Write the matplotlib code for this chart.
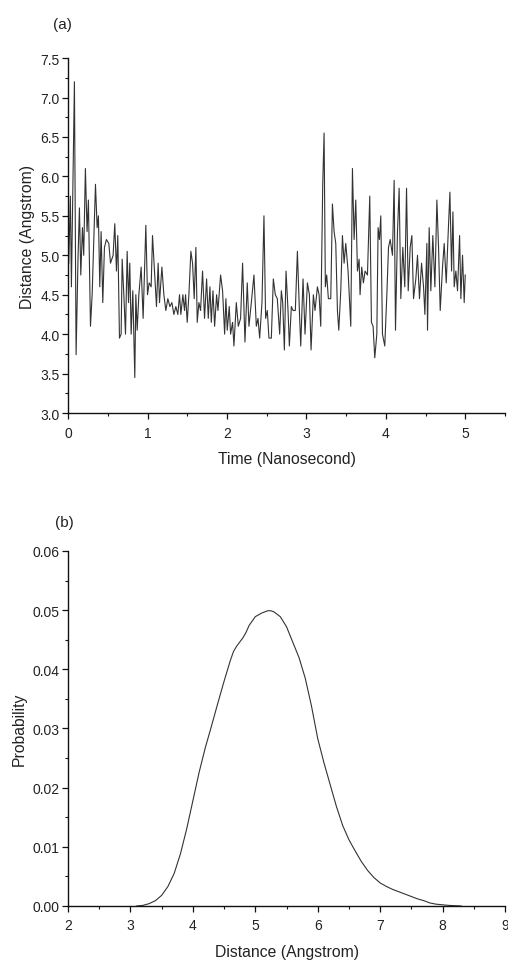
import matplotlib

matplotlib.use("Agg")
import matplotlib.pyplot as plt  # noqa: E402
from matplotlib.ticker import MultipleLocator, FormatStrFormatter  # noqa: E402

plt.rcParams["font.family"] = ["Liberation Sans", "DejaVu Sans"]

# (a) distance trace
TIME_NS = [
    0.008, 0.029, 0.042, 0.080, 0.101, 0.126, 0.143, 0.160, 0.181, 0.197,
    0.218, 0.239, 0.256, 0.282, 0.303, 0.345, 0.366, 0.382, 0.399, 0.416,
    0.437, 0.458, 0.483, 0.513, 0.534, 0.567, 0.588, 0.609, 0.626, 0.647,
    0.668, 0.681, 0.702, 0.723, 0.744, 0.761, 0.777, 0.794, 0.815, 0.840,
    0.853, 0.870, 0.891, 0.920, 0.945, 0.979, 1.000, 1.021, 1.046, 1.063,
    1.088, 1.113, 1.134, 1.151, 1.181, 1.206, 1.231, 1.256, 1.282, 1.307,
    1.332, 1.357, 1.382, 1.403, 1.420, 1.445, 1.466, 1.479, 1.500, 1.521,
    1.546, 1.567, 1.588, 1.609, 1.626, 1.647, 1.668, 1.693, 1.718, 1.744,
    1.765, 1.786, 1.803, 1.824, 1.845, 1.870, 1.887, 1.920, 1.945, 1.971,
    1.987, 2.004, 2.029, 2.046, 2.071, 2.088, 2.118, 2.143, 2.172, 2.197,
    2.227, 2.256, 2.277, 2.307, 2.340, 2.370, 2.391, 2.412, 2.441, 2.466,
    2.487, 2.508, 2.529, 2.559, 2.584, 2.609, 2.634, 2.664, 2.685, 2.702,
    2.723, 2.744, 2.769, 2.786, 2.811, 2.832, 2.861, 2.887, 2.912, 2.929,
    2.958, 2.983, 3.013, 3.038, 3.059, 3.088, 3.109, 3.139, 3.160, 3.181,
    3.206, 3.223, 3.239, 3.256, 3.277, 3.307, 3.328, 3.349, 3.370, 3.391,
    3.408, 3.433, 3.454, 3.475, 3.496, 3.525, 3.559, 3.580, 3.601, 3.622,
    3.643, 3.664, 3.676, 3.697, 3.718, 3.739, 3.769, 3.798, 3.819, 3.840,
    3.861, 3.887, 3.903, 3.920, 3.937, 3.958, 3.987, 4.013, 4.034, 4.055,
    4.084, 4.105, 4.122, 4.147, 4.168, 4.189, 4.214, 4.239, 4.261, 4.282,
    4.307, 4.328, 4.349, 4.378, 4.399, 4.424, 4.450, 4.475, 4.492, 4.517,
    4.525, 4.546, 4.567, 4.592, 4.618, 4.643, 4.664, 4.685, 4.714, 4.735,
    4.761, 4.782, 4.807, 4.828, 4.845, 4.861, 4.882, 4.903, 4.929, 4.945,
    4.966, 4.987, 5.000,
]
DIST_A = [
    4.90, 5.75, 4.60, 7.20, 3.74, 5.00, 5.60, 4.75, 5.35, 5.00,
    6.10, 5.30, 5.70, 4.10, 4.50, 5.90, 5.35, 5.50, 4.60, 5.30,
    4.40, 5.10, 5.20, 5.15, 4.90, 5.00, 5.40, 4.80, 5.25, 3.95,
    4.00, 4.95, 4.50, 4.00, 5.05, 4.40, 4.90, 4.00, 4.55, 3.45,
    4.50, 4.05, 4.50, 4.85, 4.20, 5.38, 4.50, 4.65, 4.60, 5.25,
    4.80, 4.35, 4.90, 4.40, 4.85, 4.50, 4.30, 4.45, 4.35, 4.40,
    4.25, 4.35, 4.25, 4.50, 4.25, 4.50, 4.30, 4.50, 4.15, 4.50,
    5.05, 4.90, 4.45, 5.10, 4.15, 4.40, 4.30, 4.80, 4.20, 4.70,
    4.20, 4.60, 4.15, 4.55, 4.10, 4.50, 4.30, 4.75, 4.55, 4.00,
    4.45, 4.05, 4.35, 4.00, 4.15, 3.85, 4.40, 4.10, 4.20, 4.90,
    3.90, 4.65, 4.10, 4.40, 4.75, 4.10, 4.20, 3.95, 4.40, 5.50,
    4.20, 4.30, 3.95, 3.95, 4.70, 4.50, 4.45, 4.00, 4.55, 4.40,
    3.80, 4.80, 4.30, 3.85, 4.35, 4.30, 4.30, 5.05, 4.30, 3.85,
    4.70, 4.00, 4.65, 4.50, 3.80, 4.50, 4.30, 4.60, 4.50, 4.10,
    5.90, 6.55, 4.60, 4.75, 4.45, 4.45, 5.65, 5.30, 5.15, 4.30,
    4.05, 4.55, 5.25, 4.90, 5.15, 4.80, 4.10, 6.10, 5.20, 5.70,
    4.80, 4.95, 4.50, 4.85, 4.65, 4.80, 4.75, 5.75, 4.15, 4.10,
    3.70, 4.00, 5.35, 5.20, 5.50, 4.00, 3.85, 4.50, 5.10, 5.20,
    5.00, 5.95, 4.05, 5.30, 5.85, 4.45, 5.10, 4.60, 5.85, 4.55,
    5.10, 5.25, 4.45, 4.70, 5.00, 4.45, 4.90, 4.60, 4.25, 5.15,
    4.05, 5.35, 4.55, 5.25, 4.60, 5.70, 5.10, 4.30, 4.85, 5.15,
    4.65, 5.20, 5.80, 4.80, 5.55, 4.60, 4.80, 4.55, 5.25, 4.45,
    5.00, 4.40, 4.75,
]

# (b) distance distribution
DIST_B = [
    3.10, 3.20, 3.30, 3.40, 3.50, 3.60, 3.70, 3.80, 3.90, 4.00,
    4.10, 4.20, 4.30, 4.40, 4.50, 4.60, 4.65, 4.70, 4.75, 4.80,
    4.85, 4.90, 5.00, 5.10, 5.20, 5.25, 5.30, 5.40, 5.50, 5.60,
    5.70, 5.80, 5.90, 6.00, 6.10, 6.20, 6.30, 6.40, 6.50, 6.60,
    6.70, 6.80, 6.90, 7.00, 7.10, 7.20, 7.30, 7.40, 7.50, 7.60,
    7.70, 7.80, 7.90, 8.00, 8.10, 8.30,
]
PROB = [
    0.0000, 0.0001, 0.0004, 0.0009, 0.0018, 0.0033, 0.0055, 0.0088, 0.0130, 0.0178,
    0.0226, 0.0268, 0.0305, 0.0343, 0.0380, 0.0415, 0.0430, 0.0439, 0.0446, 0.0453,
    0.0462, 0.0474, 0.0489, 0.0495, 0.0499, 0.0499, 0.0497, 0.0489, 0.0472, 0.0446,
    0.0420, 0.0385, 0.0338, 0.0283, 0.0242, 0.0205, 0.0168, 0.0136, 0.0112, 0.0093,
    0.0075, 0.0060, 0.0048, 0.0039, 0.0033, 0.0028, 0.0024, 0.0020, 0.0016, 0.0012,
    0.0009, 0.0005, 0.0003, 0.0002, 0.0001, 0.0000,
]

TXT = "#222222"


def style(ax):
    for s in ("top", "right"):
        ax.spines[s].set_visible(False)
    for s in ("left", "bottom"):
        ax.spines[s].set_linewidth(1.0)
        ax.spines[s].set_color("#111111")
    ax.tick_params(which="major", direction="out", length=4, width=0.9,
                   labelsize=10, colors="#111111", labelcolor=TXT, pad=2)
    ax.tick_params(axis="x", which="major", pad=5)
    ax.tick_params(which="minor", direction="out", length=2.5, width=0.8,
                   colors="#111111")


fig = plt.figure(figsize=(5.08, 9.62), dpi=100)

ax1 = fig.add_axes([0.134, 0.5696, 0.860, 0.369])
ax1.plot(TIME_NS, DIST_A, color="#333333", lw=0.8)
ax1.set_xlim(0, 5.5)
ax1.set_ylim(3.0, 7.5)
ax1.xaxis.set_major_locator(MultipleLocator(1))
ax1.xaxis.set_minor_locator(MultipleLocator(0.5))
ax1.yaxis.set_major_locator(MultipleLocator(0.5))
ax1.yaxis.set_minor_locator(MultipleLocator(0.25))
ax1.yaxis.set_major_formatter(FormatStrFormatter("%.1f"))
style(ax1)
ax1.set_xlabel("Time (Nanosecond)", fontsize=11.3, color=TXT, labelpad=8)
ax1.set_ylabel("Distance (Angstrom)", fontsize=11.3, color=TXT, labelpad=4)
fig.text(0.104, 0.974, "(a)", fontsize=11, color=TXT, ha="left", va="center")

ax2 = fig.add_axes([0.134, 0.0572, 0.860, 0.369])
ax2.plot(DIST_B, PROB, color="#333333", lw=0.8)
ax2.set_xlim(2, 9)
ax2.set_ylim(0, 0.06)
ax2.xaxis.set_major_locator(MultipleLocator(1))
ax2.xaxis.set_minor_locator(MultipleLocator(0.5))
ax2.yaxis.set_major_locator(MultipleLocator(0.01))
ax2.yaxis.set_minor_locator(MultipleLocator(0.005))
ax2.yaxis.set_major_formatter(FormatStrFormatter("%.2f"))
style(ax2)
ax2.set_xlabel("Distance (Angstrom)", fontsize=11.3, color=TXT, labelpad=8)
ax2.set_ylabel("Probability", fontsize=11.3, color=TXT, labelpad=4)
fig.text(0.108, 0.456, "(b)", fontsize=11, color=TXT, ha="left", va="center")

fig.savefig("out.png", dpi=100)
